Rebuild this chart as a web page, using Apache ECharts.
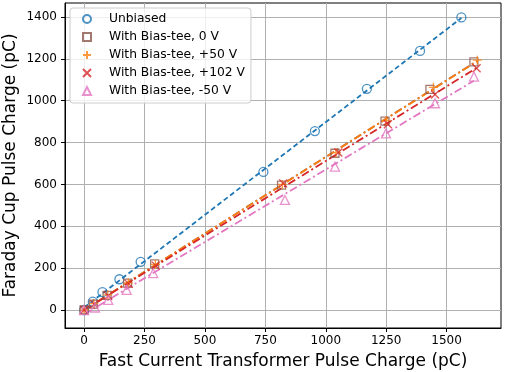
<!DOCTYPE html>
<html>
<head>
<meta charset="utf-8">
<title>Faraday Cup vs FCT</title>
<script src="https://cdn.jsdelivr.net/npm/echarts@6/dist/echarts.min.js"></script>
</head>
<body style="margin:0">
<div id="main" style="width:505px;height:372px;"></div>
<script>
// measured charges (pC): x = fast current transformer, y = Faraday cup
var unbiasedX = [0, 36, 76, 146, 234, 742, 955, 1170, 1390, 1561];
var unbiasedY = [0, 40, 85, 147, 230, 660, 855, 1057, 1238, 1398];
var bias0X = [0, 38, 95, 180, 292, 817, 1038, 1245, 1431, 1613];
var bias0Y = [0, 28, 70, 128, 220, 597, 749, 903, 1054, 1186];
var bias50X = [0, 40, 98, 183, 295, 820, 1042, 1250, 1445, 1627];
var bias50Y = [0, 30, 72, 130, 218, 600, 752, 906, 1064, 1194];
var bias102X = [0, 42, 100, 185, 297, 824, 1052, 1257, 1452, 1624];
var bias102Y = [0, 28, 68, 125, 212, 605, 753, 888, 1030, 1155];
var biasM50X = [0, 45, 100, 176, 286, 831, 1038, 1249, 1452, 1613];
var biasM50Y = [0, 12, 48, 96, 176, 526, 685, 844, 988, 1115];

var xTicks = [0, 250, 500, 750, 1000, 1250, 1500];
var yTicks = [0, 200, 400, 600, 800, 1000, 1200, 1400];

var font = 'DejaVu Sans';
var dashed = [5, 3];
var dashDot = [8, 3, 2, 3];

var sets = [
    {name: 'Unbiased', x: unbiasedX, y: unbiasedY, color: '#1f77b4', symbol: 'circle', size: 9, dash: dashed},
    {name: 'With Bias-tee, 0 V', x: bias0X, y: bias0Y, color: '#8c564b', symbol: 'rect', size: 8, dash: dashDot},
    {name: 'With Bias-tee, +50 V', x: bias50X, y: bias50Y, color: '#ff7f0e', symbol: 'path://M5,0L5,10M0,5L10,5', size: 9, dash: dashDot},
    {name: 'With Bias-tee, +102 V', x: bias102X, y: bias102Y, color: '#d62728', symbol: 'path://M0,0L10,10M10,0L0,10', size: 8, dash: dashDot},
    {name: 'With Bias-tee, -50 V', x: biasM50X, y: biasM50Y, color: '#e377c2', symbol: 'triangle', size: 9, dash: dashDot}
];

// straight line fit to each data set
function fit(xs, ys) {
    var n = xs.length, sx = 0, sy = 0, sxx = 0, sxy = 0;
    for (var i = 0; i < n; i++) {
        sx += xs[i]; sy += ys[i]; sxx += xs[i] * xs[i]; sxy += xs[i] * ys[i];
    }
    var k = (n * sxy - sx * sy) / (n * sxx - sx * sx);
    var b = (sy - k * sx) / n;
    var x0 = Math.min.apply(null, xs), x1 = Math.max.apply(null, xs);
    return [[x0, k * x0 + b], [x1, k * x1 + b]];
}

var series = [];
sets.forEach(function (s) {
    series.push({
        type: 'line',
        data: fit(s.x, s.y),
        showSymbol: false,
        silent: true,
        lineStyle: {color: s.color, width: 1.8, type: s.dash},
        z: 2
    });
    series.push({
        name: s.name,
        type: 'scatter',
        data: s.x.map(function (v, i) { return [v, s.y[i]]; }),
        symbol: s.symbol,
        symbolSize: s.size,
        itemStyle: {color: 'rgba(0,0,0,0)', borderColor: s.color, borderWidth: 1.3},
        z: 3
    });
});

var plain = function (v) { return String(v); };

var myChart = echarts.init(document.getElementById('main'));
var option = {
    animation: false,
    grid: {left: 65, right: 4, top: 3, bottom: 44, outerBoundsMode: 'none', containLabel: false,
        show: true, borderColor: '#000', borderWidth: 1, backgroundColor: '#fff'},
    legend: {
        orient: 'vertical',
        left: 70, top: 8,
        itemWidth: 8, itemHeight: 8, itemGap: 4,
        padding: [4, 6, 5, 12],
        borderColor: '#cccccc', borderWidth: 1, borderRadius: 3,
        backgroundColor: 'rgba(255,255,255,0.8)',
        textStyle: {fontFamily: font, fontSize: 12.3, color: '#000', lineHeight: 14, padding: [0, 0, 0, 13]},
        data: sets.map(function (s) { return s.name; })
    },
    xAxis: {
        type: 'value', min: -79, max: 1725,
        name: 'Fast Current Transformer Pulse Charge (pC)',
        nameLocation: 'middle', nameGap: 25, nameMoveOverlap: false,
        nameTextStyle: {fontFamily: font, fontSize: 17, color: '#000'},
        axisLine: {show: true, onZero: false, lineStyle: {color: '#000'}},
        axisTick: {show: true, length: 4, customValues: xTicks, lineStyle: {color: '#000'}},
        axisLabel: {customValues: xTicks, formatter: plain, margin: 7, fontFamily: font, fontSize: 12, color: '#000'},
        splitLine: {show: true, lineStyle: {color: '#b0b0b0', width: 1}}
    },
    yAxis: {
        type: 'value', min: -86, max: 1467,
        name: 'Faraday Cup Pulse Charge (pC)',
        nameLocation: 'middle', nameGap: 46, nameMoveOverlap: false,
        nameTextStyle: {fontFamily: font, fontSize: 17, color: '#000'},
        axisLine: {show: true, onZero: false, lineStyle: {color: '#000'}},
        axisTick: {show: true, length: 4, customValues: yTicks, lineStyle: {color: '#000'}},
        axisLabel: {customValues: yTicks, formatter: plain, margin: 8, fontFamily: font, fontSize: 12, color: '#000'},
        splitLine: {show: true, lineStyle: {color: '#b0b0b0', width: 1}}
    },
    series: series
};
myChart.setOption(option);
</script>
</body>
</html>
